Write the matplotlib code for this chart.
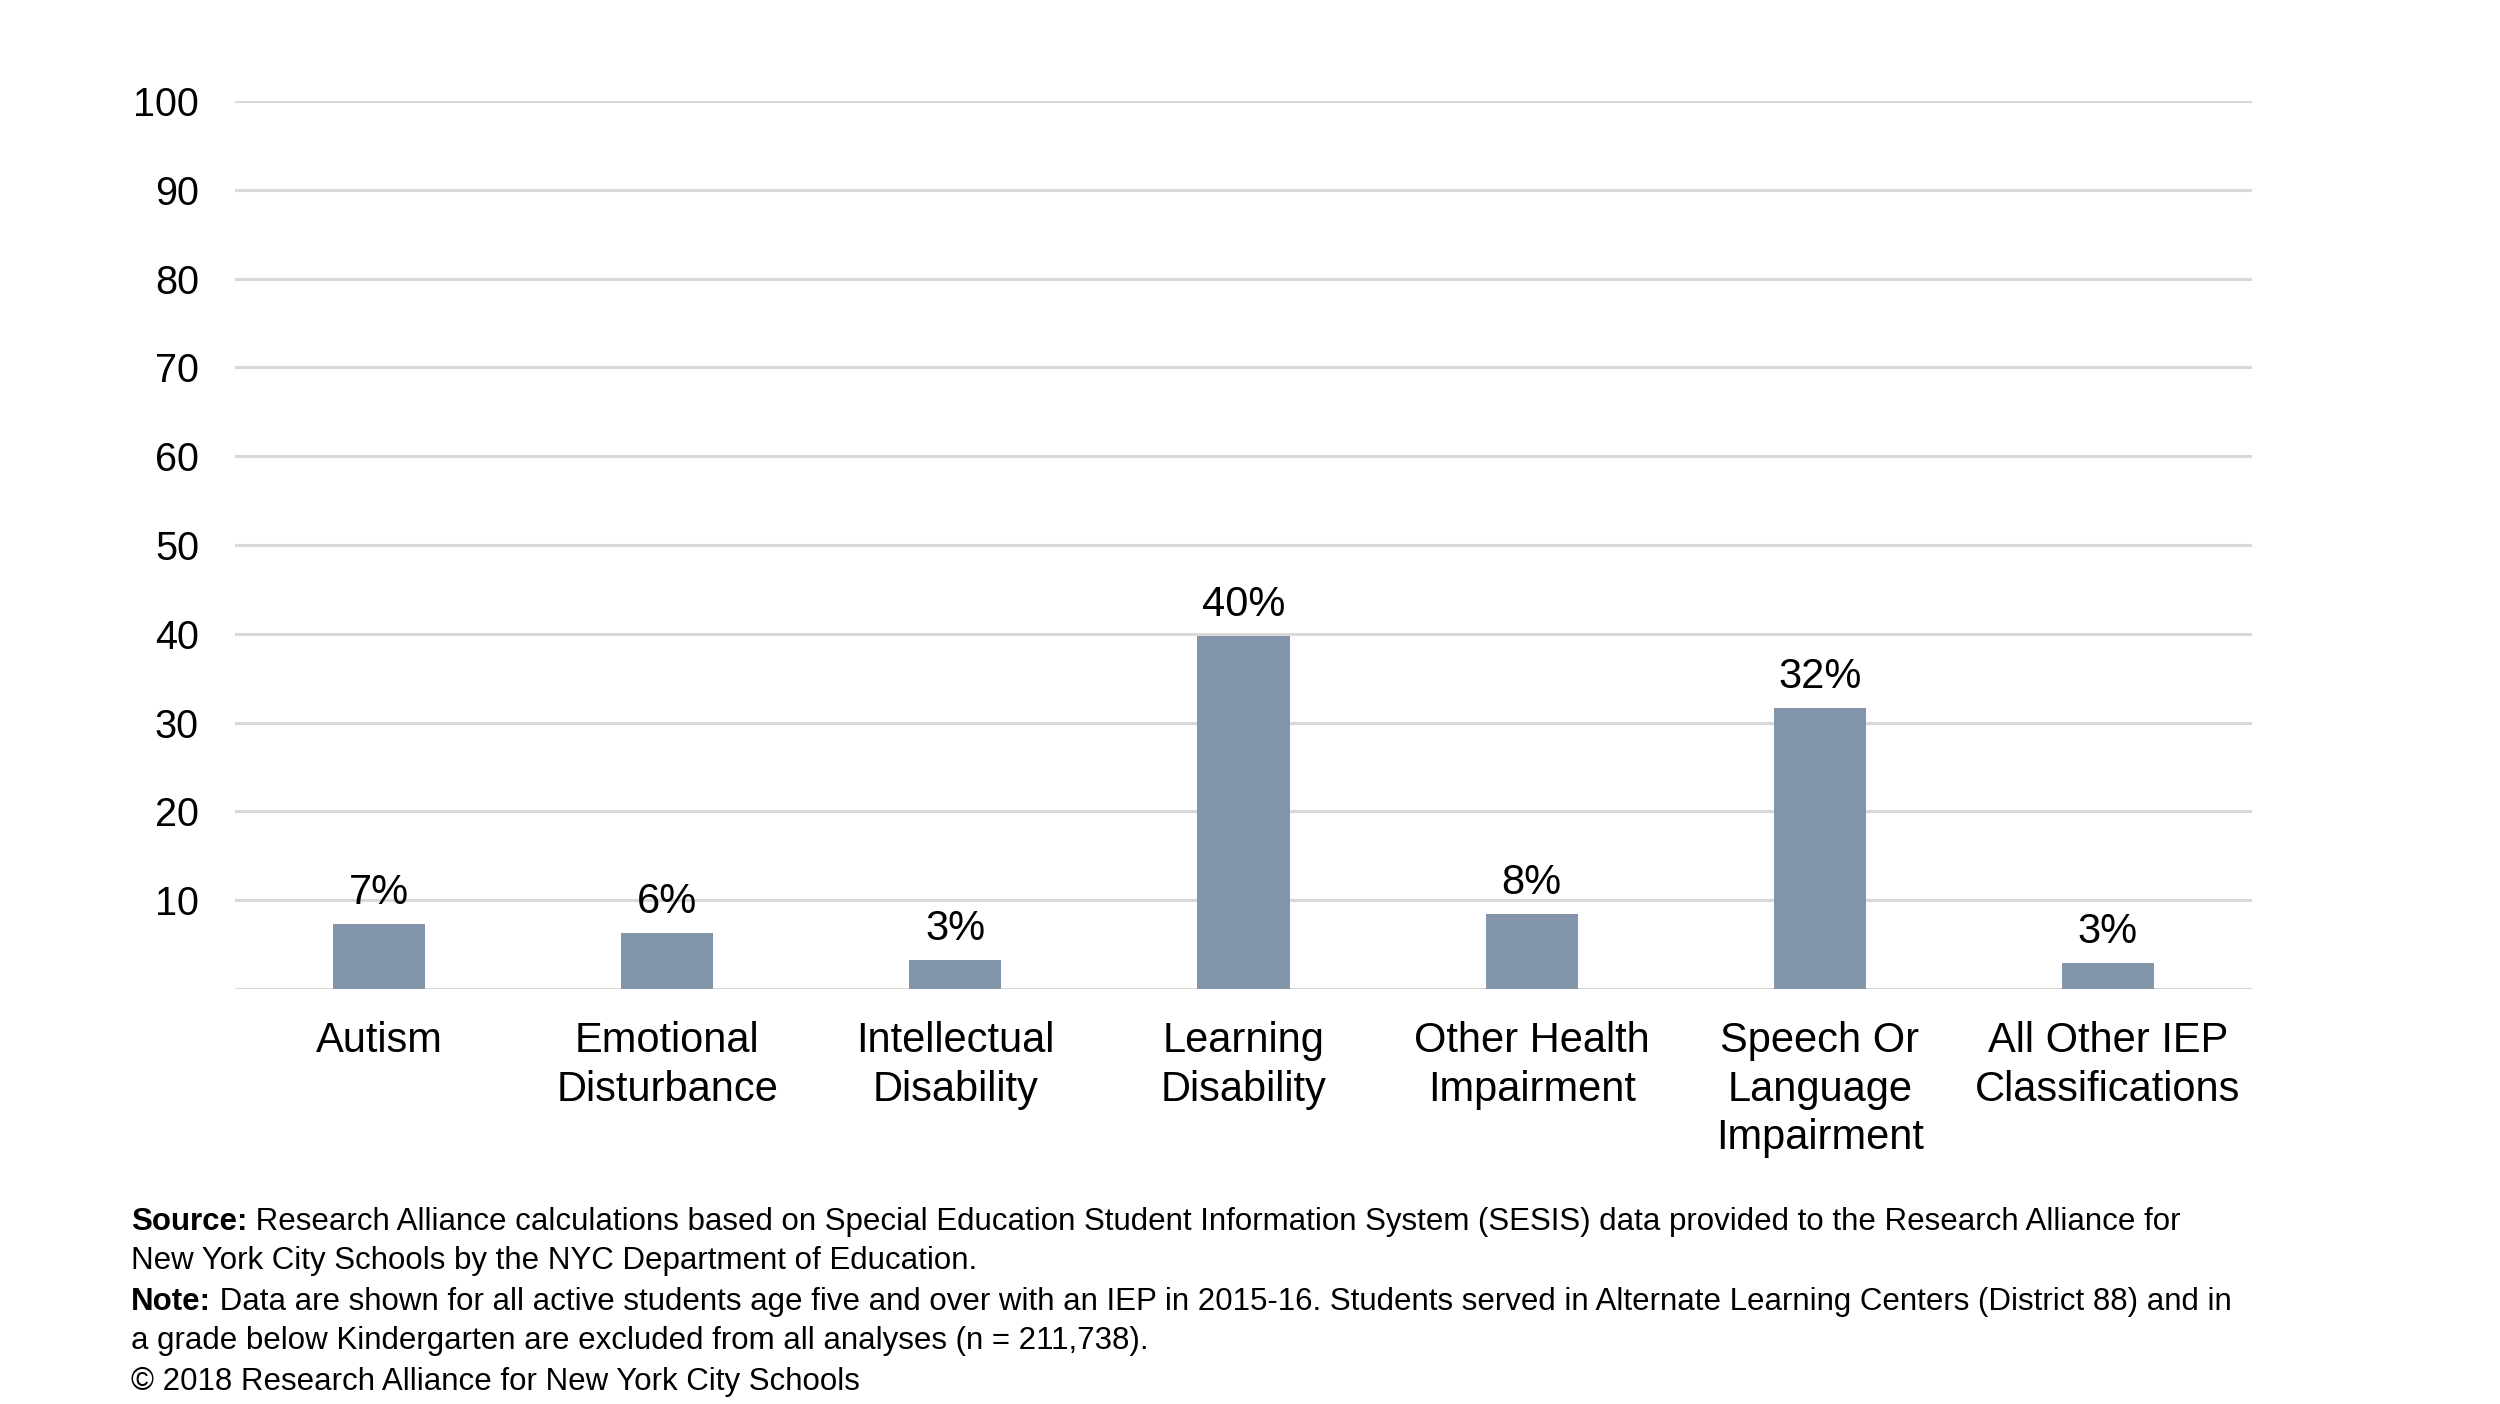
import matplotlib
matplotlib.use("Agg")
import matplotlib.pyplot as plt

categories = ["Autism", "Emotional\nDisturbance", "Intellectual\nDisability",
              "Learning\nDisability", "Other Health\nImpairment",
              "Speech Or\nLanguage\nImpairment", "All Other IEP\nClassifications"]
values = [7.3, 6.3, 3.3, 39.7, 8.4, 31.6, 2.9]
labels = ["7%", "6%", "3%", "40%", "8%", "32%", "3%"]
yticks = [10, 20, 30, 40, 50, 60, 70, 80, 90, 100]

plt.rcParams['font.family'] = ['Liberation Sans', 'DejaVu Sans']

W, H = 2500, 1404
fig = plt.figure(figsize=(W / 100, H / 100), dpi=100)
ax = fig.add_axes([235 / W, 1 - 989 / H, (2252 - 235) / W, (989 - 101) / H])

bar_color = "#8395AA"
x = list(range(len(categories)))
ax.bar(x, values, width=0.32, color=bar_color, zorder=3)

ax.set_xlim(-0.5, len(categories) - 0.5)
ax.set_ylim(0, 100)
ax.set_yticks(yticks)
ax.set_yticklabels([str(t) for t in yticks])
for t in [0] + yticks:
    ax.axhline(t, color="#D9D9D9", lw=2.2, zorder=1)

for s in ax.spines.values():
    s.set_visible(False)
ax.tick_params(axis='y', length=0, labelsize=28.5, pad=26, colors='black')
ax.set_xticks(x)
ax.set_xticklabels(categories, fontsize=30, linespacing=1.28, va='top')
ax.tick_params(axis='x', length=0, pad=23, colors='black')

for xi, v, lab in zip(x, values, labels):
    ax.annotate(lab, xy=(xi, v), xytext=(0, 8), textcoords='offset points',
                ha='center', va='bottom', fontsize=30, color='black')

fs = 22.5
lx = 131 / W
fig.canvas.draw()

def line(y_px, bold, rest):
    yf = 1 - y_px / H
    if bold:
        t = fig.text(lx, yf, bold, fontsize=fs, fontweight='bold', va='baseline', ha='left')
        bb = t.get_window_extent(renderer=fig.canvas.get_renderer())
        fig.text(bb.x1 / W, yf, " " + rest, fontsize=fs, va='baseline', ha='left')
    else:
        fig.text(lx, yf, rest, fontsize=fs, va='baseline', ha='left')

line(1230, "Source:", "Research Alliance calculations based on Special Education Student Information System (SESIS) data provided to the Research Alliance for")
line(1269, None, "New York City Schools by the NYC Department of Education.")
line(1310, "Note:", "Data are shown for all active students age five and over with an IEP in 2015-16. Students served in Alternate Learning Centers (District 88) and in")
line(1349, None, "a grade below Kindergarten are excluded from all analyses (n = 211,738).")
line(1390, None, "\u00a9 2018 Research Alliance for New York City Schools")

fig.savefig("out.png", dpi=100, facecolor="white")
